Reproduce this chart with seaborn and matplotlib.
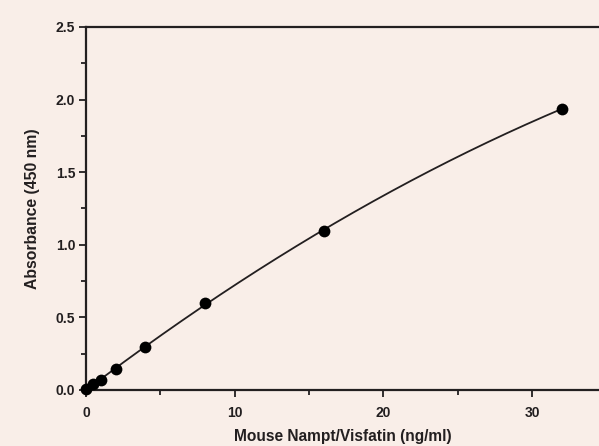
import numpy as np
import pandas as pd
import matplotlib
matplotlib.use("Agg")
import matplotlib.pyplot as plt
from matplotlib.ticker import MultipleLocator, FormatStrFormatter
import seaborn as sns

# standard curve points
conc = [0, 0.5, 1, 2, 4, 8, 16, 32]
absorbance = [0.005, 0.039, 0.069, 0.142, 0.298, 0.601, 1.097, 1.937]

bg = '#f9eee8'
ink = '#231f20'

sns.set_theme(style='ticks')
plt.rcParams['font.family'] = ['Liberation Sans', 'DejaVu Sans']

df = pd.DataFrame({'conc': conc, 'abs': absorbance})

# smooth fitted curve through the standards
coef = np.polyfit(df['conc'], df['abs'], 2)
xs = np.linspace(0, 32, 200)
fit = pd.DataFrame({'conc': xs, 'abs': np.polyval(coef, xs)})

fig = plt.figure(figsize=(5.99, 4.46), dpi=100, facecolor=bg)
ax = fig.add_axes([0.1436, 0.1256, 0.8564, 0.8139])
ax.set_facecolor(bg)

sns.lineplot(data=fit, x='conc', y='abs', ax=ax, color=ink, linewidth=1.3)
sns.scatterplot(data=df, x='conc', y='abs', ax=ax, color='black', s=72,
                edgecolor='black', linewidth=0, zorder=3, clip_on=False)

ax.set_xlim(0, 34.5)
ax.set_ylim(0, 2.5)
ax.xaxis.set_major_locator(MultipleLocator(10))
ax.xaxis.set_minor_locator(MultipleLocator(5))
ax.yaxis.set_major_locator(MultipleLocator(0.5))
ax.yaxis.set_minor_locator(MultipleLocator(0.25))
ax.yaxis.set_major_formatter(FormatStrFormatter('%.1f'))

for side in ['left', 'top', 'bottom']:
    ax.spines[side].set_color(ink)
    ax.spines[side].set_linewidth(1.6)
ax.spines['right'].set_visible(False)

ax.tick_params(which='major', length=4.8, width=1.3, color=ink, labelsize=10,
               labelcolor=ink)
ax.tick_params(which='minor', length=3.5, width=1.3, color=ink)
ax.tick_params(axis='x', which='major', pad=7)
ax.tick_params(axis='y', which='major', pad=3)
for lab in ax.get_xticklabels() + ax.get_yticklabels():
    lab.set_fontweight('bold')

ax.set_xlabel('Mouse Nampt/Visfatin (ng/ml)', fontsize=11.2, fontweight='bold',
              color=ink)
ax.set_ylabel('Absorbance (450 nm)', fontsize=11.3, fontweight='bold',
              color=ink)
ax.xaxis.set_label_coords(0.5, -0.108)
ax.yaxis.set_label_coords(-0.09, 0.5)

fig.savefig('out.png', dpi=100, facecolor=bg)
